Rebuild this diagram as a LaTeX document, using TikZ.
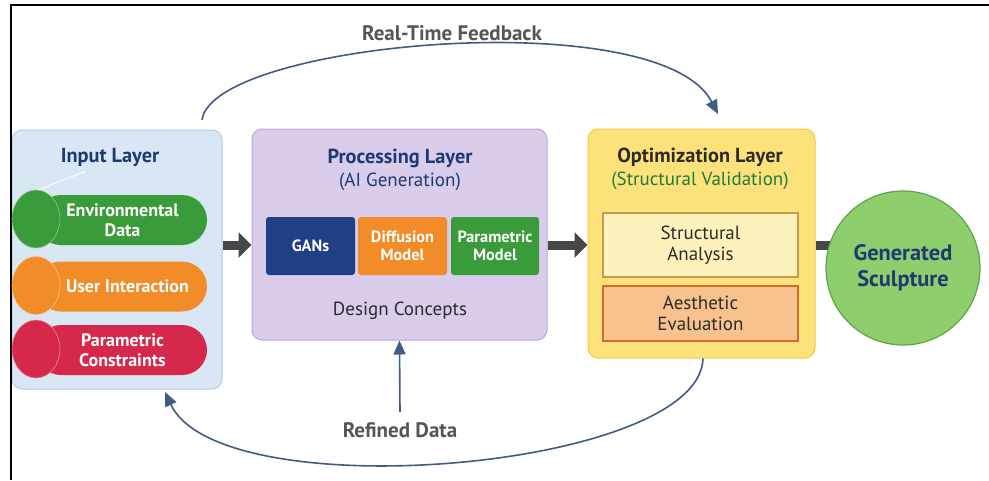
\documentclass[tikz,border=0pt]{standalone}
\usepackage{fontspec}
\setmainfont{PT Sans}
\usetikzlibrary{arrows.meta,backgrounds,shapes.geometric}
\definecolor{inputfill}{HTML}{D8E7F3}
\definecolor{inputborder}{HTML}{B5CEE3}
\definecolor{procfill}{HTML}{D9CDEB}
\definecolor{procborder}{HTML}{B9A8D8}
\definecolor{optfill}{HTML}{FDE27C}
\definecolor{optborder}{HTML}{F2C94C}
\definecolor{navy}{HTML}{1E3A72}
\definecolor{pgreen}{HTML}{3A9B3A}
\definecolor{porange}{HTML}{F28C28}
\definecolor{pred}{HTML}{D6284A}
\definecolor{ganfill}{HTML}{213F85}
\definecolor{structfill}{HTML}{FEF2BC}
\definecolor{structborder}{HTML}{C59A4A}
\definecolor{aestfill}{HTML}{F8C28E}
\definecolor{aestborder}{HTML}{D26B2C}
\definecolor{circfill}{HTML}{8ECE6C}
\definecolor{circborder}{HTML}{5BA646}
\definecolor{fbblue}{HTML}{3F5C84}
\definecolor{blockgray}{HTML}{474747}
\definecolor{labgray}{HTML}{555555}
\definecolor{darktext}{HTML}{2B2B2B}
\definecolor{greentext}{HTML}{1F7A3E}
\begin{document}
\begin{tikzpicture}[x=1pt,y=-1pt,
  layer/.style={rounded corners=10pt, line width=1pt, inner sep=0pt},
  titletext/.style={font=\fontsize{20.3}{23}\selectfont\bfseries, inner sep=0pt},
  subtitle/.style={font=\fontsize{19}{22}\selectfont, inner sep=0pt},
  pill/.style={rounded corners=25pt, minimum width=171pt, minimum height=50pt, inner sep=0pt,
     text=white, align=center, font=\fontsize{18}{19.5}\selectfont\bfseries},
  pillcap/.style={ellipse, minimum width=48pt, minimum height=58pt, inner sep=0pt, line width=0.6pt},
  model/.style={rounded corners=3pt, minimum height=58pt, inner sep=0pt, text=white, align=center,
     font=\fontsize{16.3}{18}\selectfont\bfseries},
  evalbox/.style={line width=1.2pt, minimum width=195pt, inner sep=0pt, align=center, text=darktext,
     font=\fontsize{19}{21}\selectfont},
  blockarrow/.style={line width=9pt, draw=blockgray, -{Triangle[length=13pt,width=25pt]}},
  blockline/.style={line width=9pt, draw=blockgray},
  fb/.style={line width=1.6pt, draw=fbblue, -{Triangle[length=14pt,width=12pt]}},
  fblabel/.style={text=labgray, font=\fontsize{21}{24}\selectfont\bfseries, inner sep=0pt}
]
\useasboundingbox (0,0) rectangle (989,480);
\begin{scope}[on background layer]
  \fill[white] (0,0) rectangle (989,480);
\end{scope}

% layer boxes
\node[layer, fill=inputfill, draw=inputborder, minimum width=210pt, minimum height=259pt] (inp) at (117,259.5) {};
\node[layer, fill=procfill, draw=procborder, minimum width=295pt, minimum height=211pt] (proc) at (399.5,234.5) {};
\node[layer, fill=optfill, draw=optborder, minimum width=227pt, minimum height=229pt] (opt) at (701.5,243.5) {};

% frame
\draw[line width=2pt, black] (10.5,480) -- (10.5,5) -- (989,5);

% input layer
\node[titletext, text=navy] (inptitle) at (110,157) {Input Layer};
\draw[white, line width=0.8pt] (38,190) -- (84,172);
\fill[white] (84,172) circle (1.2pt);

\node[pill, fill=pgreen] (env) at (121.5,220) {\hspace*{2pt}Environmental\\\hspace*{2pt}Data};
\node[pillcap, fill=pgreen, draw=pgreen!55!white] (envcap) at (36,219) {};
\node[pill, fill=porange] (user) at (121.5,286.5) {\hspace*{12pt}User Interaction};
\node[pillcap, fill=porange, draw=porange!55!white] (usercap) at (36,285.5) {};
\node[pill, fill=pred] (param) at (121.5,350) {\hspace*{2pt}Parametric\\\hspace*{2pt}Constraints};
\node[pillcap, fill=pred, draw=pred!55!white] (paramcap) at (36,349) {};

% processing layer
\node[titletext, text=navy] (proctitle) at (400,158) {Processing Layer};
\node[subtitle, text=navy] (procsub) at (400,182) {(AI Generation)};
\node[model, fill=ganfill, minimum width=89pt] (gan) at (310.5,246) {GANs};
\node[model, fill=porange, minimum width=89pt] (diff) at (402.5,246) {Diffusion\\Model};
\node[model, fill=pgreen, minimum width=88pt] (pmod) at (495,246) {Parametric\\Model};
\node[subtitle, text=darktext] (design) at (400,311) {Design Concepts};

% optimization layer
\node[titletext, text=darktext] (opttitle) at (700,157) {Optimization Layer};
\node[subtitle, text=greentext] (optsub) at (700,181) {(Structural Validation)};
\node[evalbox, fill=structfill, draw=structborder, minimum height=64pt] (struct) at (700.5,245) {Structural\\Analysis};
\node[evalbox, fill=aestfill, draw=aestborder, minimum height=55pt] (aest) at (700.5,313.5) {Aesthetic\\Evaluation};

% output
\node[circle, fill=circfill, draw=circborder, line width=1.2pt, minimum size=154pt, inner sep=0pt,
      text=navy, align=center, font=\fontsize{22.4}{26}\selectfont\bfseries] (sculpt) at (903,268) {Generated\\Sculpture};

% block arrows
\coordinate (yarrow) at (0,245);
\draw[blockarrow] (inp.east |- yarrow) -- (proc.west |- yarrow);
\draw[blockarrow] (proc.east |- yarrow) -- (opt.west |- yarrow);
\begin{scope}[on background layer]
  \draw[blockline] (opt.east |- yarrow) -- (sculpt.center |- yarrow);
\end{scope}

% feedback loops
\node[fblabel] (rtlabel) at (452,33) {Real-Time Feedback};
\coordinate (rtstart) at (202,120);
\coordinate (rtend) at (718,114);
\draw[fb] (rtstart) .. controls (212,42) and (660,2) .. (rtend);

\coordinate (fbx) at (703,0);
\coordinate (fbend) at (165,392);
\draw[fb] (opt.south -| fbx) .. controls (700,470) and (220,510) .. (fbend);

\node[fblabel] (refined) at (400,430) {Refined Data};
\draw[fb] ([yshift=10pt]refined.north) -- (proc.south);
\end{tikzpicture}
\end{document}
